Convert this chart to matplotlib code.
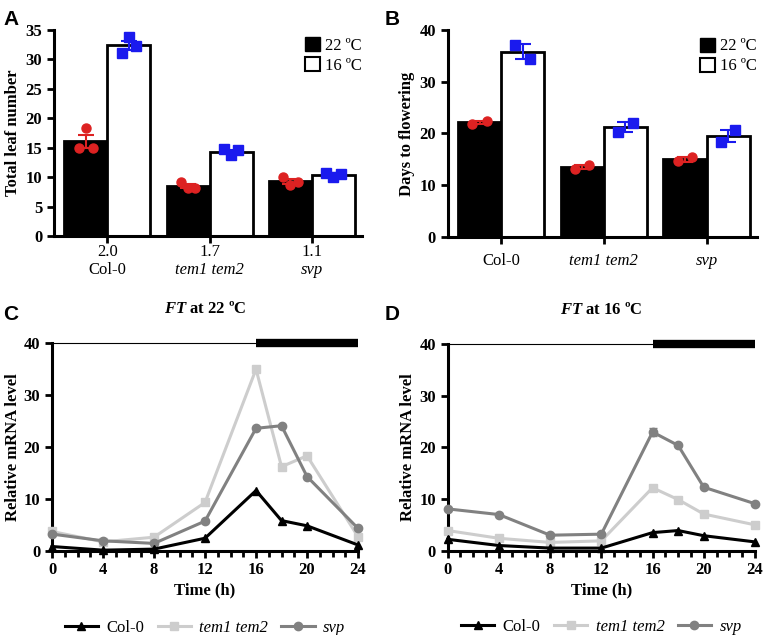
import matplotlib
matplotlib.use("Agg")
import matplotlib.pyplot as plt
import numpy as np
from matplotlib.patches import Patch
from matplotlib.lines import Line2D

# ---- data ----
genotypes = ["Col-0", "tem1 tem2", "svp"]
genotype_italic = [False, True, True]
ratios = ["2.0", "1.7", "1.1"]

# panel A: total leaf number
leaf_22_mean = [16.1, 8.5, 9.3]
leaf_22_sem = [1.1, 0.3, 0.4]
leaf_16_mean = [32.3, 14.3, 10.4]
leaf_16_sem = [0.8, 0.3, 0.2]
leaf_22_points = [[15.0, 18.3, 15.0], [9.1, 8.2, 8.2], [10.0, 8.6, 9.2]]
leaf_16_points = [[31.0, 33.7, 32.2], [14.7, 13.8, 14.5], [10.7, 10.0, 10.5]]

# panel B: days to flowering
days_22_mean = [22.2, 13.6, 15.0]
days_22_sem = [0.3, 0.4, 0.5]
days_16_mean = [35.8, 21.2, 19.5]
days_16_sem = [1.5, 0.95, 1.2]
days_22_points = [[21.9, 22.5], [13.2, 14.0], [14.6, 15.5]]
days_16_points = [[37.1, 34.4], [20.2, 22.1], [18.4, 20.6]]

# panels C, D: FT time course
hours = [0, 4, 8, 12, 16, 18, 20, 24]
ft22_col = [0.8, 0.1, 0.3, 2.4, 11.6, 5.8, 4.8, 1.1]
ft22_tem = [3.7, 1.7, 2.6, 9.3, 35.0, 16.2, 18.3, 2.7]
ft22_svp = [3.2, 1.9, 1.4, 5.7, 23.6, 24.1, 14.3, 4.3]
ft16_col = [2.2, 1.0, 0.5, 0.5, 3.5, 3.9, 2.9, 1.7]
ft16_tem = [3.9, 2.4, 1.6, 1.9, 12.2, 9.9, 7.1, 5.0]
ft16_svp = [8.1, 7.0, 3.0, 3.2, 23.0, 20.4, 12.3, 9.1]
ft16_svp_err = [0, 0, 0, 0, 0.8, 0, 0, 0]
night_start = 16

serif = "Liberation Serif"
plt.rcParams["mathtext.fontset"] = "custom"
plt.rcParams["mathtext.rm"] = "Liberation Serif"
plt.rcParams["mathtext.bf"] = "Liberation Serif:bold"
plt.rcParams["mathtext.bfit"] = "Liberation Serif:bold:italic"
plt.rcParams["mathtext.it"] = "Liberation Serif:italic"

RED = "#dd2222"
BLUE = "#1a1aee"
LIGHT = "#cdcdcd"
MID = "#818181"
FS = 12

fig = plt.figure(figsize=(7.65, 6.35), dpi=100)


def style_axes(ax):
    for s in ["top", "right"]:
        ax.spines[s].set_visible(False)
    for s in ["left", "bottom"]:
        ax.spines[s].set_linewidth(2.2)
    ax.tick_params(width=2, length=5, labelsize=FS)
    for lab in ax.get_yticklabels() + ax.get_xticklabels():
        lab.set_fontfamily(serif)
        lab.set_fontweight("bold")


def bar_panel(ax, m22, s22, p22, m16, s16, p16, ymax, ystep, ylabel, show_ratio):
    x = np.arange(len(genotypes))
    w = 0.42
    ax.bar(x - w / 2, m22, w, color="black", edgecolor="black", linewidth=2, zorder=2)
    ax.bar(x + w / 2, m16, w, color="white", edgecolor="black", linewidth=2, zorder=2)
    ax.errorbar(x - w / 2, m22, yerr=s22, fmt="none", ecolor=RED, capsize=6, elinewidth=1.5, capthick=1.5, zorder=3)
    ax.errorbar(x + w / 2, m16, yerr=s16, fmt="none", ecolor=BLUE, capsize=6, elinewidth=1.5, capthick=1.5, zorder=3)
    for i in range(len(genotypes)):
        n = len(p22[i])
        offs = np.linspace(-0.07, 0.07, n)
        ax.plot(x[i] - w / 2 + offs, p22[i], "o", color=RED, ms=6.5, zorder=4, clip_on=False)
        ax.plot(x[i] + w / 2 + offs, p16[i], "s", color=BLUE, ms=6.5, zorder=4, clip_on=False)
    ax.set_xlim(-0.52, 2.49)
    ax.set_ylim(0, ymax)
    ax.set_yticks(np.arange(0, ymax + 1, ystep))
    ax.set_xticks(x)
    ax.set_xticklabels([""] * len(x))
    ax.tick_params(axis="x", length=0)
    ax.set_ylabel(ylabel, fontfamily=serif, fontweight="bold", fontsize=FS, labelpad=3)
    style_axes(ax)
    tr = ax.get_xaxis_transform()
    for i, g in enumerate(genotypes):
        st = "italic" if genotype_italic[i] else "normal"
        if show_ratio:
            ax.text(x[i], -0.04, ratios[i], transform=tr, ha="center", va="top",
                    fontfamily=serif, fontsize=FS)
            ax.text(x[i], -0.125, g, transform=tr, ha="center", va="top",
                    fontfamily=serif, fontsize=FS, style=st)
        else:
            ax.text(x[i], -0.075, g, transform=tr, ha="center", va="top",
                    fontfamily=serif, fontsize=FS, style=st)
    handles = [Patch(facecolor="black", edgecolor="black", label="22 ºC"),
               Patch(facecolor="white", edgecolor="black", linewidth=1.5, label="16 ºC")]
    ax.legend(handles=handles, loc="upper right", bbox_to_anchor=(1.02, 0.995), frameon=False,
              prop={"family": serif, "size": FS}, handlelength=0.9, handleheight=0.9,
              handletextpad=0.3, labelspacing=0.2, borderaxespad=0)


def line_panel(ax, col, tem, svp, svp_err, title):
    ax.plot(hours, col, "-^", color="black", lw=2.2, ms=6, clip_on=False, zorder=5)
    ax.plot(hours, tem, "-s", color=LIGHT, lw=2.2, ms=6, clip_on=False, zorder=3)
    ax.errorbar(hours, svp, yerr=svp_err, fmt="-o", color=MID, lw=2.2, ms=6, capsize=3,
                clip_on=False, zorder=4)
    ax.plot([0, night_start], [40, 40], color="black", lw=0.8, clip_on=False, zorder=2)
    ax.plot([night_start, 24], [40, 40], color="black", lw=6, solid_capstyle="butt", clip_on=False, zorder=2)
    ax.set_xlim(0, 24)
    ax.set_ylim(0, 40)
    ax.set_xticks(np.arange(0, 25, 4))
    ax.set_xticks(np.arange(0, 25, 1), minor=True)
    ax.set_yticks(np.arange(0, 41, 10))
    ax.tick_params(axis="x", which="minor", width=2, length=4)
    ax.set_xlabel("Time (h)", fontfamily=serif, fontweight="bold", fontsize=FS, labelpad=3)
    ax.set_ylabel("Relative mRNA level", fontfamily=serif, fontweight="bold", fontsize=FS, labelpad=2)
    style_axes(ax)
    ax.set_title(title, fontfamily=serif, fontweight="bold", fontsize=FS, pad=22)
    handles = [Line2D([], [], color="black", marker="^", lw=2.2, ms=6),
               Line2D([], [], color=LIGHT, marker="s", lw=2.2, ms=6),
               Line2D([], [], color=MID, marker="o", lw=2.2, ms=6)]
    leg = ax.legend(handles, genotypes, loc="upper center", bbox_to_anchor=(0.5, -0.26),
                    ncol=3, frameon=False, prop={"family": serif, "size": FS},
                    handlelength=2.0, handletextpad=0.5, columnspacing=0.8)
    for t, it in zip(leg.get_texts(), genotype_italic):
        if it:
            t.set_style("italic")


axA = fig.add_axes([0.0706, 0.6283, 0.4026, 0.3252])
axB = fig.add_axes([0.5852, 0.6268, 0.4043, 0.3260])
axC = fig.add_axes([0.0680, 0.1328, 0.4000, 0.3266])
axD = fig.add_axes([0.5852, 0.1328, 0.4017, 0.3250])

bar_panel(axA, leaf_22_mean, leaf_22_sem, leaf_22_points, leaf_16_mean, leaf_16_sem, leaf_16_points,
          35, 5, "Total leaf number", True)
bar_panel(axB, days_22_mean, days_22_sem, days_22_points, days_16_mean, days_16_sem, days_16_points,
          40, 10, "Days to flowering", False)
line_panel(axC, ft22_col, ft22_tem, ft22_svp, [0] * len(hours), "$\\mathbfit{FT}$ at 22 ºC")
line_panel(axD, ft16_col, ft16_tem, ft16_svp, ft16_svp_err, "$\\mathbfit{FT}$ at 16 ºC")

for lab, (xx, yy) in zip("ABCD", [(0.004, 0.985), (0.503, 0.985), (0.004, 0.52), (0.503, 0.52)]):
    fig.text(xx, yy, lab, fontfamily="Liberation Sans", fontweight="bold", fontsize=15, va="top")

fig.savefig("out.png", dpi=100)
